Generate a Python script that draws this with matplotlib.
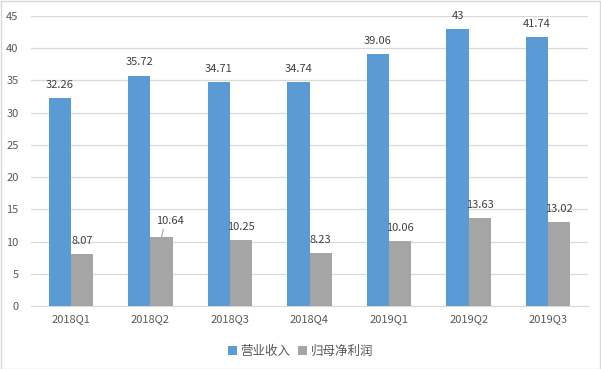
import numpy as np
import matplotlib
matplotlib.use("Agg")
import matplotlib.pyplot as plt
from matplotlib.patches import Rectangle

plt.rcParams['font.family'] = ['Noto Sans CJK SC', 'DejaVu Sans']

quarters = ["2018Q1", "2018Q2", "2018Q3", "2018Q4", "2019Q1", "2019Q2", "2019Q3"]
revenue = [32.26, 35.72, 34.71, 34.74, 39.06, 43, 41.74]
profit = [8.07, 10.64, 10.25, 8.23, 10.06, 13.63, 13.02]
series_names = ["营业收入", "归母净利润"]

blue = "#5B9BD5"
gray = "#A5A5A5"
txt = "#404040"

fig = plt.figure(figsize=(6.01, 3.69), dpi=100)
ax = fig.add_axes([31/601, 1 - 306/369, 557/601, 290/369])

x = np.arange(len(quarters))
w = 0.28
ax.bar(x - w/2, revenue, w, color=blue, label=series_names[0], zorder=3)
ax.bar(x + w/2, profit, w, color=gray, label=series_names[1], zorder=3)

for xi, v in zip(x, revenue):
    ax.annotate(f"{v:g}", (xi - w/2, v), xytext=(0, 6), textcoords="offset points",
                ha="center", va="bottom", fontsize=8, color=txt)
for i, (xi, v) in enumerate(zip(x, profit)):
    if i == 1:
        ax.annotate(f"{v:g}", (xi + w/2, v), xytext=(6, 8), textcoords="offset points",
                    ha="center", va="bottom", fontsize=8, color=txt,
                    arrowprops=dict(arrowstyle="-", color="#A6A6A6", lw=0.8,
                                    shrinkA=0, shrinkB=0, relpos=(0.3, 0.1)))
    else:
        ax.annotate(f"{v:g}", (xi + w/2, v), xytext=(0, 6), textcoords="offset points",
                    ha="center", va="bottom", fontsize=8, color=txt)

ax.set_xlim(-0.5, len(quarters) - 0.5)
ax.set_ylim(0, 45)
ax.set_yticks(np.arange(0, 50, 5))
ax.set_xticks(x)
ax.set_xticklabels(quarters)
ax.tick_params(axis="both", length=0, labelsize=8, colors="#595959")
ax.tick_params(axis="y", pad=9)
ax.tick_params(axis="x", pad=6)
ax.yaxis.grid(True, color="#D9D9D9", lw=0.9, zorder=0)
for s in ["top", "right", "left"]:
    ax.spines[s].set_visible(False)
ax.spines["bottom"].set_color("#D9D9D9")

fig.legend(loc="lower center", bbox_to_anchor=(0.5, 0.0), ncol=2, frameon=False,
           fontsize=9, handlelength=0.7, handleheight=0.7, handletextpad=0.3,
           columnspacing=0.6, labelcolor="#595959")

fig.patches.append(Rectangle((0.001, 0.001), 0.997, 0.996, transform=fig.transFigure,
                             fill=False, edgecolor="#D9D9D9", lw=1))

fig.savefig("out.png", dpi=100)
